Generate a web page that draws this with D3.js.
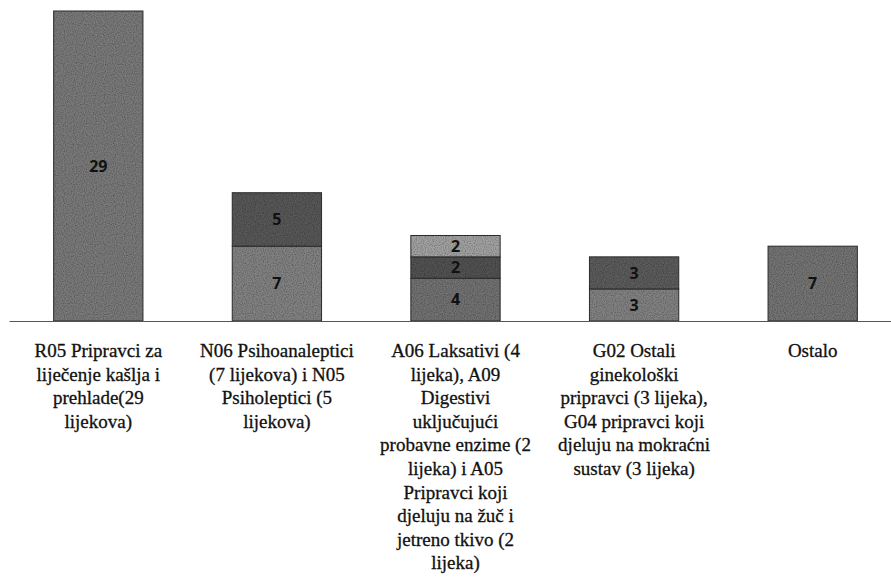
<!DOCTYPE html>
<html>
<head>
<meta charset="utf-8">
<script src="https://cdn.jsdelivr.net/npm/d3@7"></script>
<style>
  body { margin: 0; background: #fff; }
  svg { display: block; }
</style>
</head>
<body>
<div id="chart"></div>
<script>
// categories (short keys) and their wrapped tick labels
var categories = ["R05", "N06/N05", "A06/A09/A05", "G02/G04", "Ostalo"];
var tickLabels = [
  ["R05 Pripravci za", "liječenje kašlja i", "prehlade(29", "lijekova)"],
  ["N06 Psihoanaleptici", "(7 lijekova) i N05", "Psiholeptici (5", "lijekova)"],
  ["A06 Laksativi (4", "lijeka), A09", "Digestivi", "uključujući", "probavne enzime (2", "lijeka) i A05", "Pripravci koji", "djeluju na žuč i", "jetreno tkivo (2", "lijeka)"],
  ["G02 Ostali", "ginekološki", "pripravci (3 lijeka),", "G04 pripravci koji", "djeluju na mokraćni", "sustav (3 lijeka)"],
  ["Ostalo"]
];

// stacked segments, bottom to top
var level1 = [29, 7, 4, 3, 7];
var level2 = [0, 5, 2, 3, 0];
var level3 = [0, 0, 2, 0, 0];

// greys of the scanned print, per level
var shades = [
  ["#7a7a7a", "#828282", "#727272", "#828282", "#747474"],
  ["#5a5a5a", "#585858", "#525252", "#5c5c5c", "#5a5a5a"],
  ["#a0a0a0", "#a0a0a0", "#a2a2a2", "#a0a0a0", "#a0a0a0"]
];

var width = 891, height = 581;
var margin = {top: 11, bottom: 260};
var baseY = height - margin.bottom;

var svg = d3.select("#chart").append("svg")
  .attr("width", width)
  .attr("height", height);

// grain like the scanned print
var filt = svg.append("defs").append("filter")
  .attr("id", "grain")
  .attr("x", 0).attr("y", 0).attr("width", 1).attr("height", 1);
filt.append("feTurbulence")
  .attr("type", "fractalNoise")
  .attr("baseFrequency", 0.9)
  .attr("numOctaves", 1)
  .attr("seed", 3)
  .attr("result", "noise");
filt.append("feColorMatrix")
  .attr("in", "noise")
  .attr("type", "matrix")
  .attr("values", "0 0 0 0 0  0 0 0 0 0  0 0 0 0 0  1.2 0 0 0 -0.45")
  .attr("result", "dots");
filt.append("feComposite")
  .attr("in", "dots")
  .attr("in2", "SourceGraphic")
  .attr("operator", "atop");

var x = d3.scaleBand()
  .domain(categories)
  .range([9, 902])
  .paddingInner(0.5)
  .paddingOuter(0.25);

var y = d3.scaleLinear()
  .domain([0, 29])
  .range([baseY, margin.top]);

var levels = ["l1", "l2", "l3"];
var rows = categories.map(function(c, i) {
  return {cat: c, l1: level1[i], l2: level2[i], l3: level3[i]};
});
var stack = d3.stack().keys(levels)(rows);

var labels = [];
stack.forEach(function(layer, li) {
  var g = svg.append("g");
  layer.forEach(function(d, i) {
    var v = d[1] - d[0];
    if (v <= 0) return;
    g.append("rect")
      .attr("x", x(categories[i]))
      .attr("y", y(d[1]))
      .attr("width", x.bandwidth())
      .attr("height", y(d[0]) - y(d[1]))
      .attr("fill", shades[li][i])
      .attr("filter", "url(#grain)");
    g.append("rect")
      .attr("x", x(categories[i]))
      .attr("y", y(d[1]))
      .attr("width", x.bandwidth())
      .attr("height", y(d[0]) - y(d[1]))
      .attr("fill", "none")
      .attr("stroke", "#2a2a2a")
      .attr("stroke-width", 1);
    labels.push({x: x(categories[i]) + x.bandwidth() / 2, y: (y(d[0]) + y(d[1])) / 2, v: v});
  });
});

svg.append("g").selectAll("text")
  .data(labels)
  .join("text")
  .attr("x", d => d.x)
  .attr("y", d => d.y)
  .attr("text-anchor", "middle")
  .attr("dy", "0.36em")
  .attr("font-family", "Open Sans")
  .attr("font-weight", "bold")
  .attr("font-size", 16)
  .attr("fill", "#111")
  .text(d => d.v);

var xAxis = d3.axisBottom(x).tickSize(0).tickSizeOuter(0).tickFormat("");
var ax = svg.append("g")
  .attr("transform", "translate(0," + baseY + ")")
  .call(xAxis)
  .attr("font-family", "Liberation Serif")
  .attr("font-size", 19);
ax.select(".domain").attr("stroke", "#555").attr("stroke-width", 1.2);

ax.selectAll(".tick text").each(function(d, i) {
  var t = d3.select(this)
    .attr("y", 0).attr("dy", null)
    .attr("fill", "#111")
    .attr("stroke", "#111")
    .attr("stroke-width", 0.3);
  tickLabels[i].forEach(function(line, j) {
    t.append("tspan")
      .attr("x", 0)
      .attr("y", 36 + j * 23.6)
      .text(line);
  });
});
</script>
</body>
</html>
